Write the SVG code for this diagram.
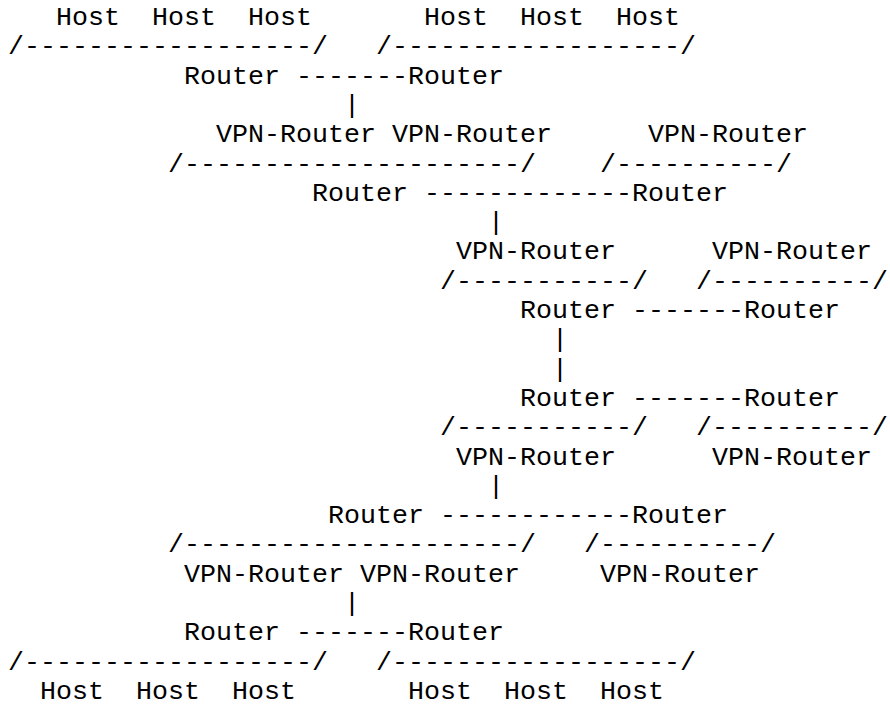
<svg xmlns="http://www.w3.org/2000/svg" width="890" height="713" viewBox="0 0 890 713">
<style>
text{font-family:'Liberation Mono','Courier New',monospace;font-size:26.667px;fill:#000;white-space:pre}
</style>
<rect width="890" height="713" fill="#fff"/>
<g id="connectors">
<text x="8" y="54.3">/------------------/</text>
<text x="376" y="54.3">/------------------/</text>
<text x="296" y="83.6">-------</text>
<text x="344" y="112.9">|</text>
<text x="168" y="171.5">/---------------------/</text>
<text x="600" y="171.5">/----------/</text>
<text x="424" y="200.8">-------------</text>
<text x="488" y="230.1">|</text>
<text x="440" y="288.7">/-----------/</text>
<text x="696" y="288.7">/----------/</text>
<text x="632" y="318">-------</text>
<text x="552" y="347.3">|</text>
<text x="552" y="376.6">|</text>
<text x="632" y="405.9">-------</text>
<text x="440" y="435.2">/-----------/</text>
<text x="696" y="435.2">/----------/</text>
<text x="488" y="493.8">|</text>
<text x="440" y="523.1">------------</text>
<text x="168" y="552.4">/---------------------/</text>
<text x="584" y="552.4">/----------/</text>
<text x="344" y="611">|</text>
<text x="296" y="640.3">-------</text>
<text x="8" y="669.6">/------------------/</text>
<text x="376" y="669.6">/------------------/</text>
</g>
<g id="host-t1"><text x="56" y="25">Host</text></g>
<g id="host-t2"><text x="152" y="25">Host</text></g>
<g id="host-t3"><text x="248" y="25">Host</text></g>
<g id="host-t4"><text x="424" y="25">Host</text></g>
<g id="host-t5"><text x="520" y="25">Host</text></g>
<g id="host-t6"><text x="616" y="25">Host</text></g>
<g id="router-1a"><text x="184" y="83.6">Router</text></g>
<g id="router-1b"><text x="408" y="83.6">Router</text></g>
<g id="vpn-2a"><text x="216" y="142.2">VPN-Router</text></g>
<g id="vpn-2b"><text x="392" y="142.2">VPN-Router</text></g>
<g id="vpn-2c"><text x="648" y="142.2">VPN-Router</text></g>
<g id="router-3a"><text x="312" y="200.8">Router</text></g>
<g id="router-3b"><text x="632" y="200.8">Router</text></g>
<g id="vpn-4a"><text x="456" y="259.4">VPN-Router</text></g>
<g id="vpn-4b"><text x="712" y="259.4">VPN-Router</text></g>
<g id="router-5a"><text x="520" y="318">Router</text></g>
<g id="router-5b"><text x="744" y="318">Router</text></g>
<g id="router-6a"><text x="520" y="405.9">Router</text></g>
<g id="router-6b"><text x="744" y="405.9">Router</text></g>
<g id="vpn-7a"><text x="456" y="464.5">VPN-Router</text></g>
<g id="vpn-7b"><text x="712" y="464.5">VPN-Router</text></g>
<g id="router-8a"><text x="328" y="523.1">Router</text></g>
<g id="router-8b"><text x="632" y="523.1">Router</text></g>
<g id="vpn-9a"><text x="184" y="581.7">VPN-Router</text></g>
<g id="vpn-9b"><text x="360" y="581.7">VPN-Router</text></g>
<g id="vpn-9c"><text x="600" y="581.7">VPN-Router</text></g>
<g id="router-10a"><text x="184" y="640.3">Router</text></g>
<g id="router-10b"><text x="408" y="640.3">Router</text></g>
<g id="host-b1"><text x="40" y="698.9">Host</text></g>
<g id="host-b2"><text x="136" y="698.9">Host</text></g>
<g id="host-b3"><text x="232" y="698.9">Host</text></g>
<g id="host-b4"><text x="408" y="698.9">Host</text></g>
<g id="host-b5"><text x="504" y="698.9">Host</text></g>
<g id="host-b6"><text x="600" y="698.9">Host</text></g>
</svg>
